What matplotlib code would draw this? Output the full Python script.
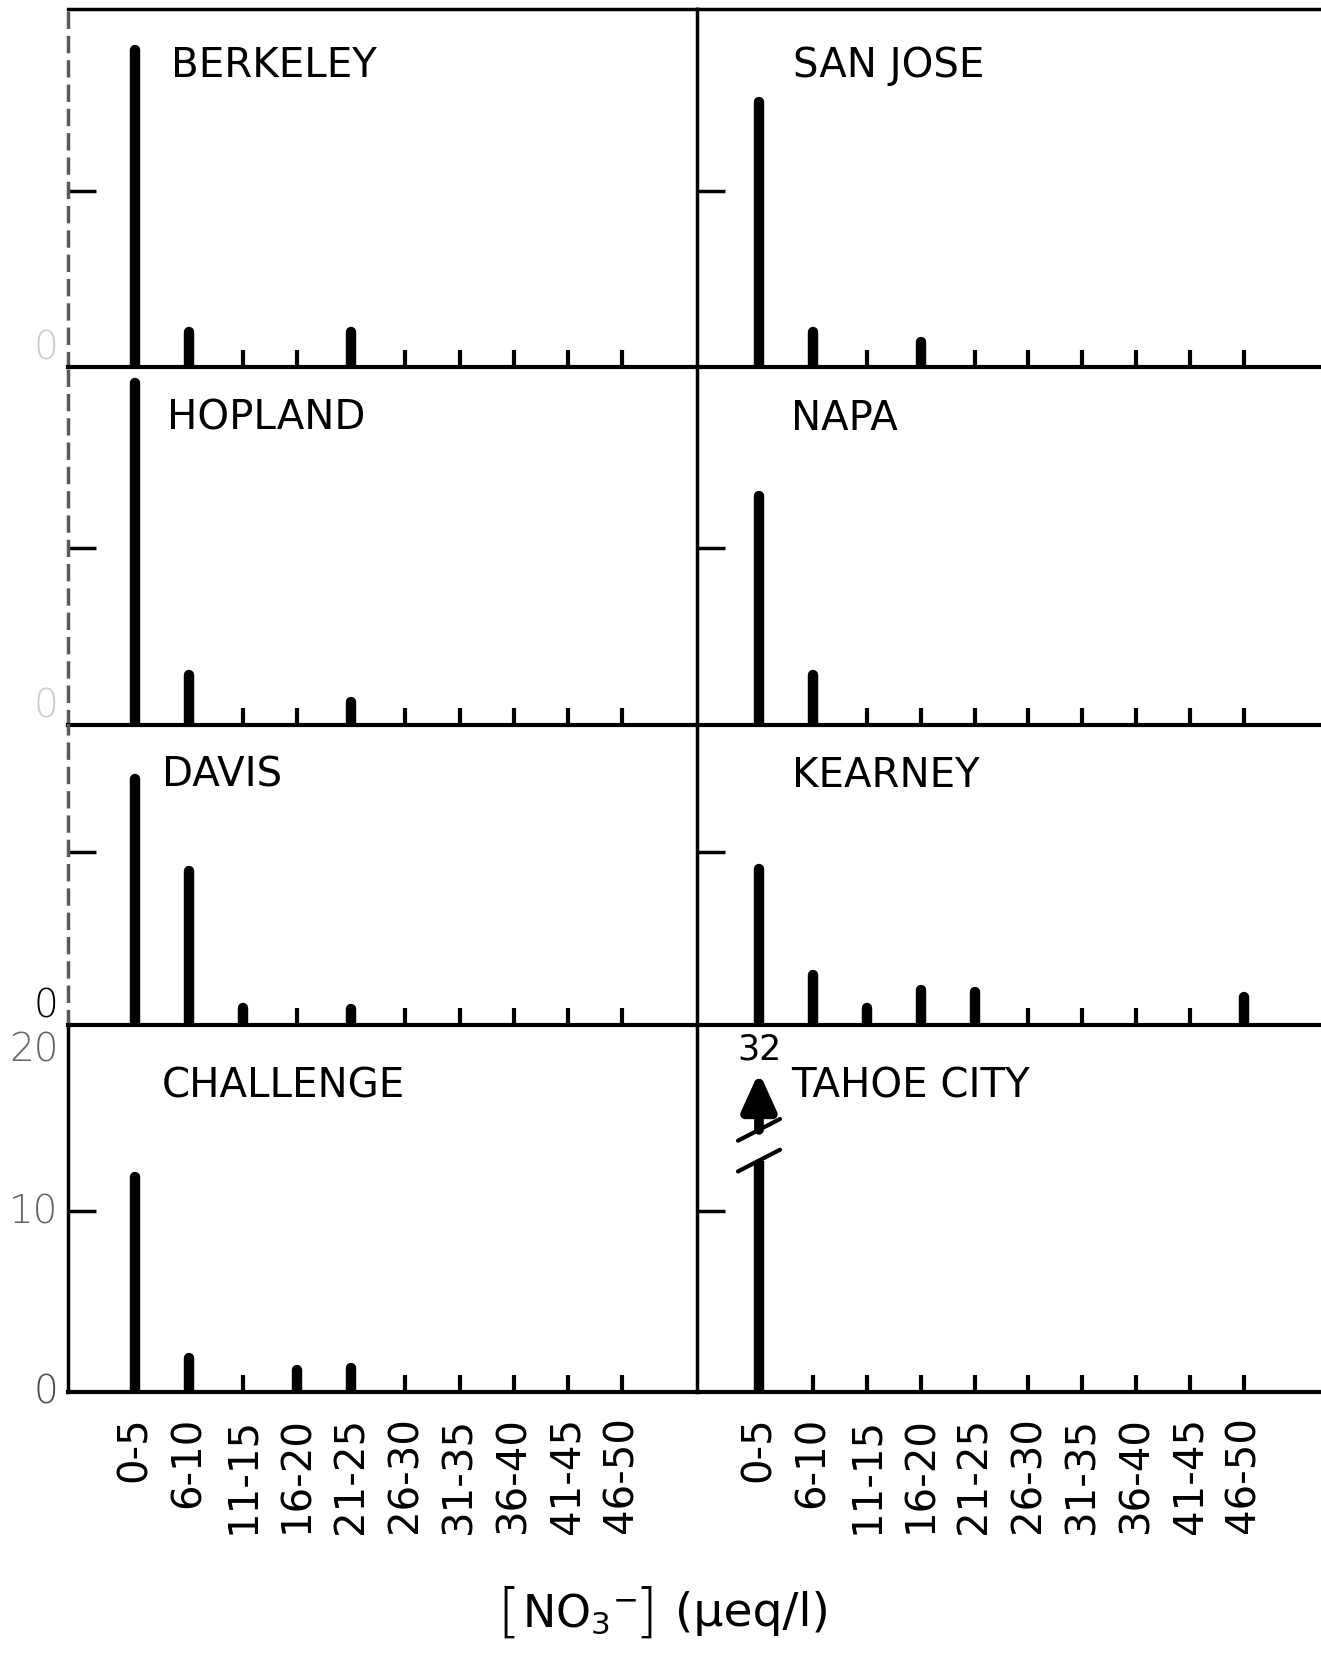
import matplotlib
matplotlib.use('Agg')
import matplotlib.pyplot as plt

# 硝酸イオン濃度の階級
categories = ['0-5', '6-10', '11-15', '16-20', '21-25',
              '26-30', '31-35', '36-40', '41-45', '46-50']

# 各地点の出現回数（階級ごと）
berkeley = [18, 2, 0, 0, 2, 0, 0, 0, 0, 0]
san_jose = [15, 2, 0, 1.4, 0, 0, 0, 0, 0, 0]
hopland = [19.3, 2.8, 0, 0, 1.3, 0, 0, 0, 0, 0]
napa = [12.9, 2.8, 0, 0, 0, 0, 0, 0, 0, 0]
davis = [14.2, 8.9, 1, 0, 0.9, 0, 0, 0, 0, 0]
kearney = [9, 2.9, 1, 2, 1.9, 0, 0, 0, 0, 1.6]
challenge = [11.9, 1.9, 0, 1.2, 1.3, 0, 0, 0, 0, 0]
tahoe_city = [32, 0, 0, 0, 0, 0, 0, 0, 0, 0]

panels = [
    ('BERKELEY', berkeley), ('SAN JOSE', san_jose),
    ('HOPLAND', hopland), ('NAPA', napa),
    ('DAVIS', davis), ('KEARNEY', kearney),
    ('CHALLENGE', challenge), ('TAHOE CITY', tahoe_city),
]

# レイアウト（ピクセル単位）
W, H = 1321, 1658
rows_px = [(10, 368), (368, 726), (726, 1026), (1026, 1393)]
cols_px = [(68, 697), (697, 1321)]
row_ytop = [20.3, 20.2, 17.3, 20.3]
col_xlim = [(-1.24, 10.39), (-1.15, 10.43)]
name_px = [(171, 66), (793, 66), (167, 419), (791, 419),
           (162, 776), (792, 776), (162, 1087), (791, 1087)]

# 軸の途中を省略する位置（TAHOE CITY）
brk_lo, brk_hi, arrow_top = 12.8, 14.5, 17.7

FONT = 'DejaVu Sans'
plt.rcParams['font.family'] = FONT
plt.rcParams['mathtext.fontset'] = 'dejavusans'

fig = plt.figure(figsize=(W / 100, H / 100), dpi=100)


def px_box(x0, x1, y0, y1):
    return [x0 / W, 1 - y1 / H, (x1 - x0) / W, (y1 - y0) / H]


for i, (name, values) in enumerate(panels):
    r, c = divmod(i, 2)
    ax = fig.add_axes(px_box(*cols_px[c], *rows_px[r]))
    ax.set_xlim(*col_xlim[c])
    ax.set_ylim(0, row_ytop[r])
    ax.patch.set_alpha(0)

    # 棒（上端が丸い太線）
    xs = [k for k, v in enumerate(values) if v > 0]
    if name == 'TAHOE CITY':
        ax.vlines(xs, 0, brk_lo, color='k', lw=7.5, capstyle='butt')
        for yb in (brk_lo, brk_hi):
            ax.plot([-0.39, 0.39], [yb - 0.6, yb + 0.6], color='k', lw=3,
                    solid_capstyle='round')
        ax.annotate('', xy=(0, arrow_top), xytext=(0, brk_hi),
                    arrowprops=dict(arrowstyle='-|>,head_length=1.1,head_width=0.5',
                                    mutation_scale=20, lw=7, color='k',
                                    shrinkA=0, shrinkB=0))
        ax.text(0, arrow_top + 0.35, '{:d}'.format(values[0]), fontsize=25,
                ha='center', va='bottom')
    else:
        ax.vlines(xs, 0, [values[k] for k in xs], color='k', lw=7.5,
                  capstyle='round')

    # 目盛り
    ax.set_xticks(range(len(categories)))
    ax.set_yticks([10])
    ax.tick_params(axis='x', direction='in', length=12, width=3,
                   labelbottom=(r == 3), labelsize=29, labelrotation=90, pad=17)
    ax.tick_params(axis='y', direction='in', length=20, width=2.5,
                   labelleft=False)
    if r == 3:
        ax.set_xticklabels(categories)

    # 枠線
    ax.spines['right'].set_visible(False)
    ax.spines['top'].set_visible(r == 0)
    ax.spines['top'].set_linewidth(2.5)
    ax.spines['bottom'].set_linewidth(3)
    ax.spines['left'].set_linewidth(2.5)
    if c == 0 and r < 3:
        ax.spines['left'].set_linestyle((0, (4, 3)))
        ax.spines['left'].set_color('0.35')

    # 地点名
    nx, ny = name_px[i]
    fig.text(nx / W, 1 - ny / H, name, fontsize=29, ha='left', va='center')

    # 左列の縦軸ラベル
    if c == 0:
        tr = ax.get_yaxis_transform()
        if r == 3:
            ax.text(-0.015, 20, '20', transform=tr, fontsize=28, color='0.4',
                    ha='right', va='top', fontweight='light')
            ax.text(-0.015, 10, '10', transform=tr, fontsize=28, color='0.4',
                    ha='right', va='center', fontweight='light')
            ax.text(-0.015, 0, '0', transform=tr, fontsize=28, color='0.3',
                    ha='right', va='center', fontweight='light')
        elif r == 2:
            ax.text(-0.015, 0, '0', transform=tr, fontsize=28, color='k',
                    ha='right', va='bottom', fontweight='light')
        else:
            ax.text(-0.015, 0, '0', transform=tr, fontsize=28, color='0.8',
                    ha='right', va='bottom', fontweight='light')

# 横軸タイトル（大きい角括弧つき）
ty = 1 - 1614 / H
fig.text(497 / W, ty, '[', fontsize=42, ha='left', va='center', fontweight=200)
fig.text(522 / W, ty, r'$\mathrm{NO}_{3}{}^{-}$', fontsize=32, ha='left', va='center')
fig.text(634 / W, ty, ']', fontsize=42, ha='left', va='center', fontweight=200)
fig.text(752 / W, ty, '(μeq/l)', fontsize=34, ha='center', va='center')

fig.savefig('out.png', dpi=100)
